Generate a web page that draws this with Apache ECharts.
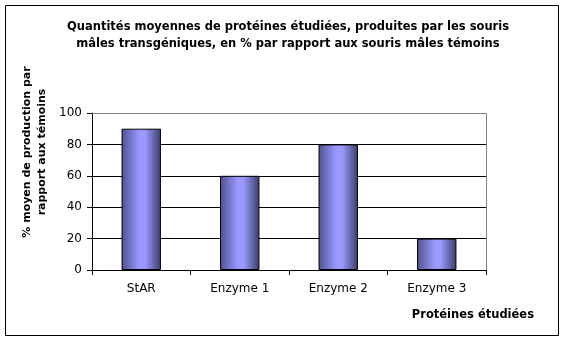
<!DOCTYPE html>
<html>
<head>
<meta charset="utf-8">
<script src="https://cdn.jsdelivr.net/npm/echarts@6/dist/echarts.min.js"></script>
<style>html,body{margin:0;padding:0;background:#fff}#c{width:564px;height:341px}</style>
</head>
<body>
<div id="c"></div>
<script>
const categories = ['StAR', 'Enzyme 1', 'Enzyme 2', 'Enzyme 3'];
const values = [90, 60, 80, 20];
const yTicks = [0, 20, 40, 60, 80, 100];
const titleText = 'Quantités moyennes de protéines étudiées, produites par les souris\nmâles transgéniques, en % par rapport aux souris mâles témoins';
const xName = 'Protéines étudiées';
const yName = '% moyen de production par\nrapport aux témoins';

const chart = echarts.init(document.getElementById('c'), null, {renderer: 'canvas'});
const font = '"DejaVu Sans", Arial, sans-serif';
chart.setOption({
  animation: false,
  title: {
    text: titleText,
    left: 283, top: 14, textAlign: 'center',
    textStyle: {fontFamily: font, fontSize: 11.5, fontWeight: 'bold', color: '#000', lineHeight: 17}
  },
  graphic: [
    {type: 'rect', shape: {x: 5.5, y: 5.5, width: 553, height: 330}, style: {fill: 'none', stroke: '#000', lineWidth: 1}, z: -1},
    {type: 'line', shape: {x1: 92, y1: 113.5, x2: 486.5, y2: 113.5}, style: {stroke: '#808080', lineWidth: 1}, z: 10},
    {type: 'line', shape: {x1: 486.5, y1: 113.5, x2: 486.5, y2: 270}, style: {stroke: '#808080', lineWidth: 1}, z: 10},
    {type: 'text', x: 534, y: 315, style: {text: xName, font: 'bold 11.5px ' + font, fill: '#000', align: 'right', verticalAlign: 'middle'}},
    {type: 'text', x: 35, y: 152, rotation: Math.PI / 2, style: {text: yName, font: 'bold 11px ' + font, fill: '#000', align: 'center', verticalAlign: 'middle', lineHeight: 15}}
  ],
  grid: {left: 92, top: 113, width: 394, height: 157, containLabel: false, outerBoundsMode: 'none'},
  xAxis: {
    type: 'category', data: categories,
    axisLine: {lineStyle: {color: '#000', width: 1}},
    axisTick: {show: true, alignWithLabel: false, length: 5, lineStyle: {color: '#000'}},
    axisLabel: {fontFamily: font, fontSize: 12, color: '#000', margin: 13}
  },
  yAxis: {
    type: 'value', min: 0, max: 100, interval: 20,
    axisLine: {show: true, lineStyle: {color: '#000', width: 1}},
    axisTick: {show: true, length: 5, lineStyle: {color: '#000'}},
    axisLabel: {fontFamily: font, fontSize: 12, color: '#000', margin: 10,
      formatter: v => yTicks.includes(v) ? String(v) : ''},
    splitLine: {show: true, lineStyle: {color: '#000', width: 1}}
  },
  series: [{
    type: 'bar', data: values, barWidth: '40%',
    itemStyle: {
      borderColor: '#000', borderWidth: 1,
      color: new echarts.graphic.LinearGradient(0, 0, 1, 0, [
        {offset: 0, color: '#50508f'},
        {offset: 0.45, color: '#9999ff'},
        {offset: 0.6, color: '#9999ff'},
        {offset: 1, color: '#3c3c6a'}
      ])
    }
  }]
});
</script>
</body>
</html>
